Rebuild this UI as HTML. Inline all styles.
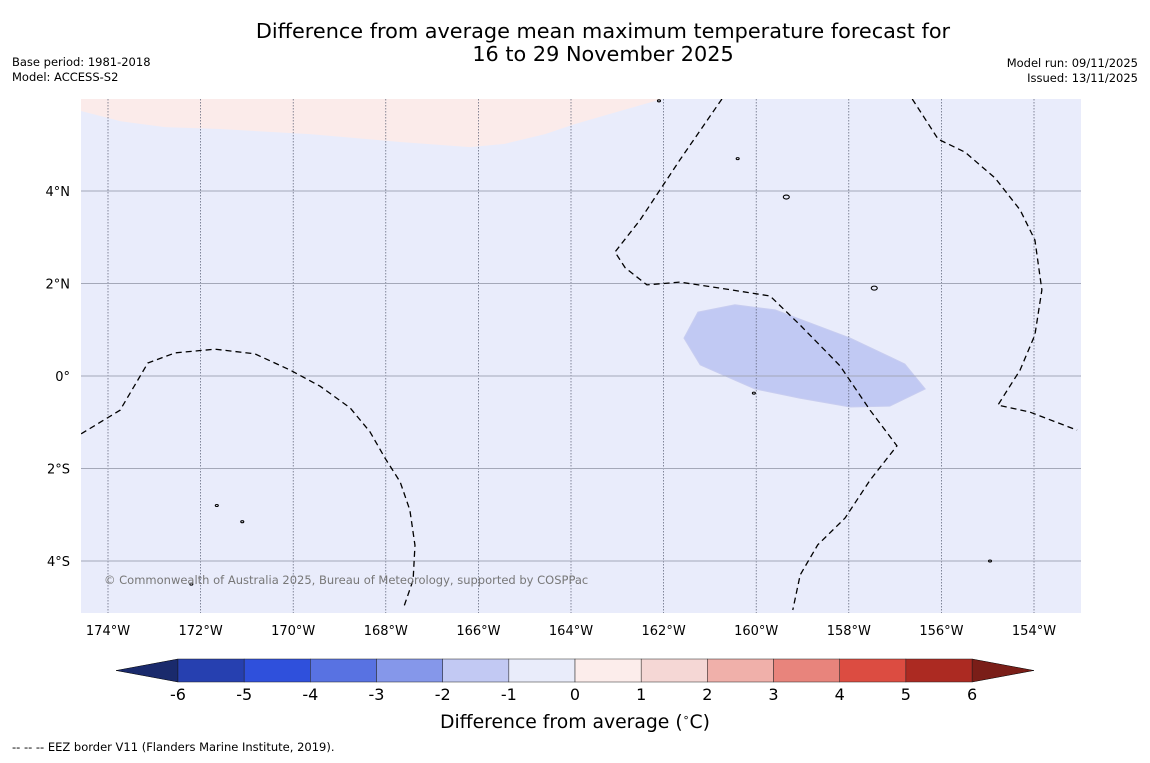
<!DOCTYPE html>
<html><head><meta charset="utf-8"><style>
body{margin:0;background:#fff;font-family:"Liberation Sans","DejaVu Sans",sans-serif;}
svg text{font-family:"DejaVu Sans","Liberation Sans",sans-serif;}
</style></head><body>
<svg id="c" width="1150" height="758" xmlns="http://www.w3.org/2000/svg">
<text x="603" y="38" font-size="20.8" text-anchor="middle">Difference from average mean maximum temperature forecast for</text>
<text x="603" y="61" font-size="20.8" text-anchor="middle">16 to 29 November 2025</text>
<text x="12" y="66" font-size="11.5">Base period: 1981-2018</text>
<text x="12" y="81" font-size="11.5">Model: ACCESS-S2</text>
<text x="1138" y="67" font-size="11.5" text-anchor="end">Model run: 09/11/2025</text>
<text x="1138" y="82" font-size="11.5" text-anchor="end">Issued: 13/11/2025</text>
<g id="map"></g>
<g id="cbar"></g>
<text x="575" y="728" font-size="18.8" text-anchor="middle">Difference from average (<tspan font-size="11" dy="-7">∘</tspan><tspan dy="7">C)</tspan></text>
<text x="12" y="751" font-size="11.5">--  --  -- EEZ border V11 (Flanders Marine Institute, 2019).</text>
</svg>
<script>
const lonTicks=[-174,-172,-170,-168,-166,-164,-162,-160,-158,-156,-154];
const latTicks=[4,2,0,-2,-4];
const pinkLon=[-174.58,-173.74,-172.77,-171.58,-169.64,-167.69,-166.18,-165.43,-164.56,-163.91,-162.94,-162.03];
const pinkLat=[5.73,5.51,5.38,5.34,5.23,5.06,4.95,5.02,5.23,5.45,5.73,5.99];
const blueLon=[-161.26,-160.46,-159.59,-157.97,-156.79,-156.35,-157.11,-157.97,-159.05,-160.03,-161.21,-161.56];
const blueLat=[1.38,1.54,1.43,0.82,0.26,-0.28,-0.65,-0.67,-0.48,-0.28,0.24,0.82];
const eezALon=[-174.58,-173.74,-173.14,-172.55,-171.69,-170.83,-170.07,-169.42,-168.77,-168.34,-168.02,-167.69,-167.48,-167.37,-167.41,-167.61];
const eezALat=[-1.25,-0.74,0.28,0.50,0.58,0.48,0.13,-0.22,-0.69,-1.21,-1.77,-2.29,-2.90,-3.66,-4.41,-4.99];
const eezBLon=[-160.74,-161.65,-162.51,-163.05,-162.83,-162.36,-161.65,-160.78,-159.70,-159.05,-158.19,-157.54,-156.96,-157.54,-158.08,-158.67,-159.05,-159.21];
const eezBLat=[5.99,4.67,3.37,2.68,2.34,1.97,2.03,1.90,1.73,1.10,0.22,-0.74,-1.51,-2.25,-3.07,-3.65,-4.30,-5.06];
const eezCLon=[-156.63,-156.07,-155.49,-154.84,-154.30,-153.98,-153.83,-153.98,-154.30,-154.78,-154.09,-153.07];
const eezCLat=[5.99,5.12,4.84,4.28,3.59,2.94,1.86,0.89,0.13,-0.63,-0.78,-1.17];
const islandLon=[-159.35,-157.45,-171.65,-172.2,-154.95,-160.4,-162.1,-171.1,-160.05];
const islandLat=[3.87,1.9,-2.8,-4.5,-4.0,4.7,5.95,-3.15,-0.37];
const cbarLevels=[-6,-5,-4,-3,-2,-1,0,1,2,3,4,5,6];
const cbarColors=["#2640b0","#2f50dc","#5872e2","#8597ea","#c2c9f3","#e9ecfa","#fcedeb","#f5d7d5","#f0b0aa","#e8847c","#dc4c41","#ac2a22"];
const ns="http://www.w3.org/2000/svg";
const X0=81,X1=1081,Y0=99,Y1=613;
const x=lon=>108+(lon+174)*46.3;
const y=lat=>376-lat*46.25;
function mk(t,a,p){const e=document.createElementNS(ns,t);for(const k in a)e.setAttribute(k,a[k]);(p||map).appendChild(e);return e;}
const map=document.getElementById('map');
const cl=mk('clipPath',{id:'clip'});mk('rect',{x:X0,y:Y0,width:X1-X0,height:Y1-Y0},cl);
const bg=mk('rect',{x:X0,y:Y0,width:X1-X0,height:Y1-Y0,fill:'#e9ecfb'});


const g=mk('g',{'clip-path':'url(#clip)'});
const pts=(lo,la)=>lo.map((v,i)=>x(v)+','+y(la[i])).join(' ');
const pk=mk('polygon',{points:pts(pinkLon,pinkLat)+` ${x(-162.03)},${Y0-5} ${X0-5},${Y0-5}`,fill:'#fbebea'},g);


const bl=mk('polygon',{points:pts(blueLon,blueLat),fill:'#c1c9f3',stroke:'#c8cdf0','stroke-width':1},g);


lonTicks.forEach(v=>{const l=mk('line',{x1:x(v),x2:x(v),y1:Y0,y2:Y1,stroke:'#555a70','stroke-width':0.7,'stroke-dasharray':'1.5,1.5'},g);


const t=mk('text',{x:x(v),y:635,'font-size':13,'text-anchor':'middle'});t.textContent=Math.abs(v)+'°W';

});
latTicks.forEach(v=>{const l=mk('line',{x1:X0,x2:X1,y1:y(v),y2:y(v),stroke:'#a4a8b8','stroke-width':0.9},g);


const t=mk('text',{x:70,y:y(v)+5,'font-size':13,'text-anchor':'end'});t.textContent=v==0?'0°':Math.abs(v)+'°'+(v>0?'N':'S');

});
[[eezALon,eezALat],[eezBLon,eezBLat],[eezCLon,eezCLat]].forEach(([lo,la])=>{const p=mk('polyline',{points:pts(lo,la),fill:'none',stroke:'#000','stroke-width':1.3,'stroke-dasharray':'6,4'},g);

});
islandLon.forEach((v,i)=>{const e=mk('ellipse',{cx:x(v),cy:y(islandLat[i]),rx:i<2?3:1.5,ry:i<2?2:1,fill:'none',stroke:'#000','stroke-width':1.1},g);

});
const cp=mk('text',{x:104,y:584,'font-size':11.5,fill:'#777'});cp.textContent='© Commonwealth of Australia 2025, Bureau of Meteorology, supported by COSPPac';


const cb=document.getElementById('cbar');
const cx=v=>178+(v+6)*66.17;const CY0=659,CY1=682;
const lt=mk('polygon',{points:`${cx(-6)},${CY0} ${116},${(CY0+CY1)/2} ${cx(-6)},${CY1}`,fill:'#1a2a6c',stroke:'#000','stroke-width':0.5},cb);


const rt=mk('polygon',{points:`${cx(6)},${CY0} ${1034},${(CY0+CY1)/2} ${cx(6)},${CY1}`,fill:'#7a1e18',stroke:'#000','stroke-width':0.5},cb);


cbarColors.forEach((c,i)=>{const r=mk('rect',{x:cx(cbarLevels[i]),y:CY0,width:cx(cbarLevels[i+1])-cx(cbarLevels[i]),height:CY1-CY0,fill:c,stroke:'#222','stroke-width':0.5},cb);

});
cbarLevels.forEach(v=>{const t=mk('text',{x:cx(v),y:700,'font-size':16,'text-anchor':'middle'},cb);t.textContent=v;

});
</script>
</body></html>
